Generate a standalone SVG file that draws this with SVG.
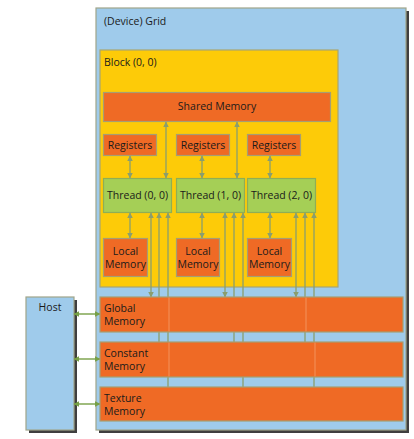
<svg xmlns="http://www.w3.org/2000/svg" width="414" height="439" viewBox="0 0 414 439">
<defs>
<marker id="ah" viewBox="0 0 10 10" refX="9" refY="5" markerWidth="5.5" markerHeight="5.5" orient="auto-start-reverse" markerUnits="userSpaceOnUse">
<path d="M0,0 L10,5 L0,10 z" fill="#8A9E6E"/>
</marker>
<marker id="ahh" viewBox="0 0 10 10" refX="9" refY="5" markerWidth="6" markerHeight="6" orient="auto-start-reverse" markerUnits="userSpaceOnUse">
<path d="M0,0 L10,5 L0,10 z" fill="#77A046"/>
</marker>
</defs>
<style>
text{font-family:"Open Sans","Noto Sans","DejaVu Sans",sans-serif;font-size:10.5px;fill:#1a1a1a}
.c{text-anchor:middle}
.grid{fill:#9FCBEB;stroke:#A0A58A;stroke-width:1.2}
.blk{fill:#FDCB08;stroke:#A8A670;stroke-width:1.2}
.mem{fill:#EF6A25;stroke:#A69E72;stroke-width:1.2}
.thr{fill:#A5CF56;stroke:#8FAE55;stroke-width:1.2}
.sh{fill:#3F3F3F}
.ln{stroke:#8A9E6E;stroke-width:1.3;fill:none}
.hl{stroke:#77A046;stroke-width:1.4;fill:none}
.seam{stroke:#F3925C;stroke-width:1;fill:none}
</style>
<rect width="414" height="439" fill="#FFFFFF"/>
<g id="grid">
<rect class="sh" x="99" y="11" width="310" height="422"/>
<rect class="grid" x="96" y="8" width="310" height="422"/>
<text x="104" y="25">(Device) Grid</text>
</g>
<g id="host">
<rect class="sh" x="29" y="300" width="48" height="133"/>
<rect class="grid" x="26" y="297" width="48" height="133"/>
<text class="c" x="50" y="311">Host</text>
</g>
<g id="block">
<rect class="blk" x="100" y="50" width="238" height="237"/>
<text x="104" y="66">Block (0, 0)</text>
</g>
<g id="shared-memory">
<rect class="mem" x="103.5" y="92.5" width="227" height="29"/>
<text class="c" x="217" y="110">Shared Memory</text>
</g>
<g id="registers-0">
<rect class="mem" x="103.5" y="134.5" width="53" height="21"/>
<text class="c" x="130" y="149">Registers</text>
</g>
<g id="registers-1">
<rect class="mem" x="176.5" y="134.5" width="53" height="21"/>
<text class="c" x="203" y="149">Registers</text>
</g>
<g id="registers-2">
<rect class="mem" x="247.5" y="134.5" width="53" height="21"/>
<text class="c" x="274" y="149">Registers</text>
</g>
<g id="thread-0">
<rect class="thr" x="103.5" y="178.5" width="68" height="34"/>
<text class="c" x="137.5" y="199">Thread (0, 0)</text>
</g>
<g id="thread-1">
<rect class="thr" x="176.5" y="178.5" width="68" height="34"/>
<text class="c" x="210.5" y="199">Thread (1, 0)</text>
</g>
<g id="thread-2">
<rect class="thr" x="247.5" y="178.5" width="68" height="34"/>
<text class="c" x="281.5" y="199">Thread (2, 0)</text>
</g>
<g id="local-memory-0">
<rect class="mem" x="103.5" y="238.5" width="44" height="38"/>
<text class="c" x="125.5" y="255">Local</text>
<text class="c" x="125.5" y="268">Memory</text>
</g>
<g id="local-memory-1">
<rect class="mem" x="176.5" y="238.5" width="43" height="38"/>
<text class="c" x="198" y="255">Local</text>
<text class="c" x="198" y="268">Memory</text>
</g>
<g id="local-memory-2">
<rect class="mem" x="247.5" y="238.5" width="44" height="38"/>
<text class="c" x="269.5" y="255">Local</text>
<text class="c" x="269.5" y="268">Memory</text>
</g>
<g id="connectors">
<line class="ln" x1="130" y1="156" x2="130" y2="178" marker-start="url(#ah)" marker-end="url(#ah)"/>
<line class="ln" x1="202" y1="156" x2="202" y2="178" marker-start="url(#ah)" marker-end="url(#ah)"/>
<line class="ln" x1="270" y1="156" x2="270" y2="178" marker-start="url(#ah)" marker-end="url(#ah)"/>
<line class="ln" x1="130" y1="213" x2="130" y2="238" marker-start="url(#ah)" marker-end="url(#ah)"/>
<line class="ln" x1="202" y1="213" x2="202" y2="238" marker-start="url(#ah)" marker-end="url(#ah)"/>
<line class="ln" x1="270" y1="213" x2="270" y2="238" marker-start="url(#ah)" marker-end="url(#ah)"/>
<line class="ln" x1="166" y1="122" x2="166" y2="178" marker-start="url(#ah)" marker-end="url(#ah)"/>
<line class="ln" x1="237" y1="122" x2="237" y2="178" marker-start="url(#ah)" marker-end="url(#ah)"/>
<line class="ln" x1="151" y1="213" x2="151" y2="297" marker-start="url(#ah)" marker-end="url(#ah)"/>
<line class="ln" x1="225" y1="213" x2="225" y2="297" marker-start="url(#ah)" marker-end="url(#ah)"/>
<line class="ln" x1="296" y1="213" x2="296" y2="297" marker-start="url(#ah)" marker-end="url(#ah)"/>
<line class="ln" x1="159" y1="342" x2="159" y2="213" marker-end="url(#ah)"/>
<line class="ln" x1="234" y1="342" x2="234" y2="213" marker-end="url(#ah)"/>
<line class="ln" x1="305" y1="342" x2="305" y2="213" marker-end="url(#ah)"/>
<line class="ln" x1="168" y1="387" x2="168" y2="213" marker-end="url(#ah)"/>
<line class="ln" x1="243" y1="387" x2="243" y2="213" marker-end="url(#ah)"/>
<line class="ln" x1="314" y1="387" x2="314" y2="213" marker-end="url(#ah)"/>
<line class="hl" x1="74" y1="314" x2="100" y2="314" marker-start="url(#ahh)" marker-end="url(#ahh)"/>
<line class="hl" x1="74" y1="359" x2="100" y2="359" marker-start="url(#ahh)" marker-end="url(#ahh)"/>
<line class="hl" x1="74" y1="404" x2="100" y2="404" marker-start="url(#ahh)" marker-end="url(#ahh)"/>
</g>
<g id="global-memory">
<rect class="mem" x="100" y="297" width="303" height="35"/>
<line class="seam" x1="169" y1="297.6" x2="169" y2="331.4"/>
<line class="seam" x1="306" y1="297.6" x2="306" y2="331.4"/>
<text x="104" y="312">Global</text>
<text x="104" y="325">Memory</text>
</g>
<g id="constant-memory">
<rect class="mem" x="100" y="342" width="303" height="35"/>
<line class="seam" x1="169" y1="342.6" x2="169" y2="376.4"/>
<line class="seam" x1="315" y1="342.6" x2="315" y2="376.4"/>
<text x="104" y="357">Constant</text>
<text x="104" y="370">Memory</text>
</g>
<g id="texture-memory">
<rect class="mem" x="100" y="387" width="303" height="34"/>
<text x="104" y="402">Texture</text>
<text x="104" y="415">Memory</text>
</g>
</svg>
